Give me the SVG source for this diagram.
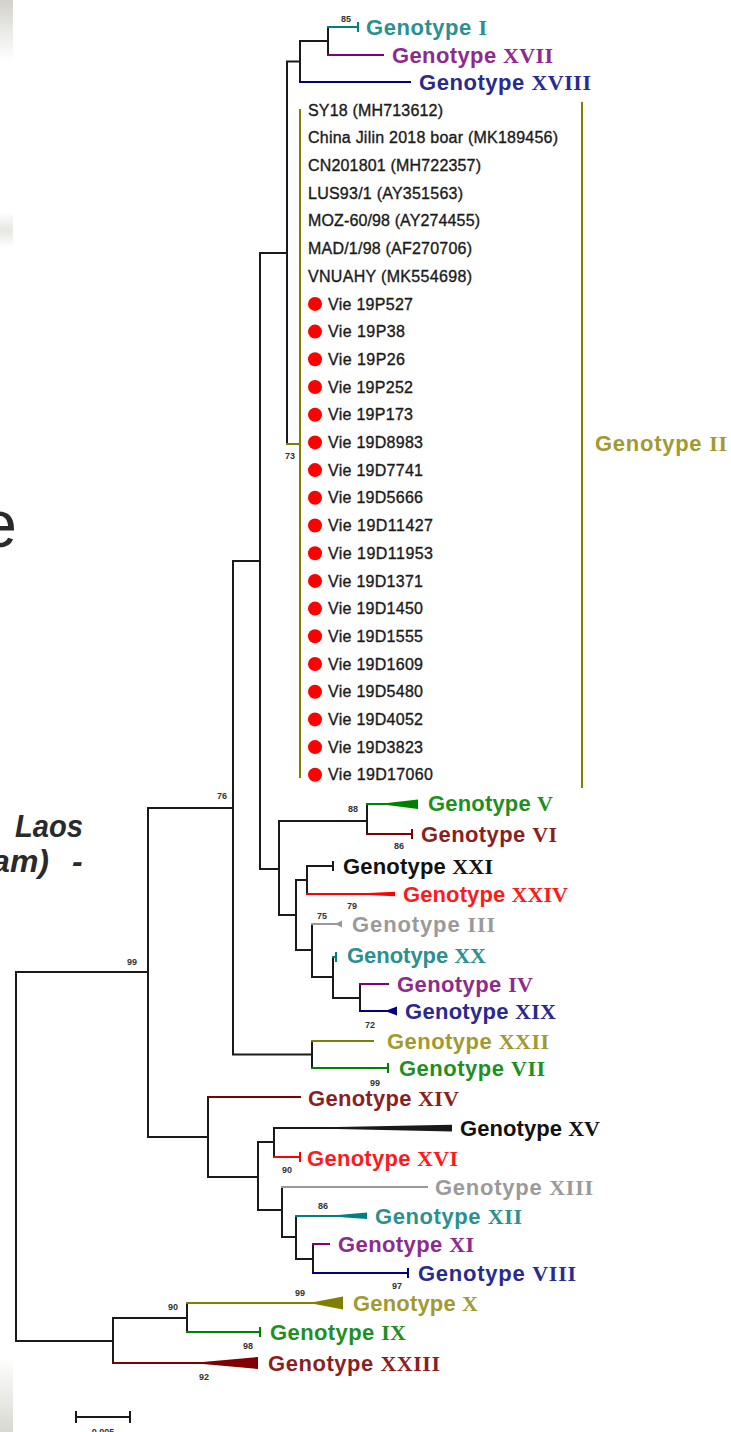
<svg xmlns="http://www.w3.org/2000/svg" width="731" height="1432" viewBox="0 0 731 1432">
<defs>
<linearGradient id="gTop" x1="0" y1="0" x2="0" y2="1"><stop offset="0" stop-color="#d2d2ca"/><stop offset="1" stop-color="#ffffff"/></linearGradient>
<linearGradient id="gBot" x1="0" y1="0" x2="0" y2="1"><stop offset="0" stop-color="#ffffff"/><stop offset="1" stop-color="#d8d8d2"/></linearGradient>
<linearGradient id="gMid" x1="0" y1="0" x2="0" y2="1"><stop offset="0" stop-color="#ffffff"/><stop offset="0.5" stop-color="#e6e6e2"/><stop offset="1" stop-color="#ffffff"/></linearGradient>
<style>
.ln{fill:none;stroke-width:2;stroke-linecap:square}
.k{stroke:#1a1a1a}.tl{stroke:#008080}.pu{stroke:#800080}.nv{stroke:#000080}.ol{stroke:#808000}.gr{stroke:#008000}.dr{stroke:#800000}.rd{stroke:#ff0000}.gy{stroke:#999999}
.fk{fill:#1a1a1a}.ftl{fill:#008080}.fpu{fill:#800080}.fnv{fill:#000080}.fol{fill:#808000}.fgr{fill:#008000}.fdr{fill:#800000}.frd{fill:#ff0000}.fgy{fill:#999999}
.g{font-family:"Liberation Sans",Arial,sans-serif;font-weight:bold;font-size:22px}
.n{font-family:"Liberation Serif","Times New Roman",serif;font-weight:bold}
.ct{fill:#2a9090}.cp{fill:#8e2a8e}.cn{fill:#2a2a8e}.co{fill:#a09a30}.cg{fill:#1f8f1f}.cd{fill:#8b1f1f}.cr{fill:#ff1a1a}.cy{fill:#9a9a9a}.ck{fill:#111111}
.s{font-family:"Liberation Sans",Arial,sans-serif;font-size:16px;fill:#1a1a1a;stroke:#1a1a1a;stroke-width:0.35}
.b{font-family:"Liberation Sans",Arial,sans-serif;font-size:9px;font-weight:bold;fill:#333333;text-anchor:middle}
.dot{fill:#ff0000}
.slide{font-family:"Liberation Sans",Arial,sans-serif;fill:#2a2a2a}
</style>
</defs>
<rect width="731" height="1432" fill="#ffffff"/>
<g id="slide-edge">
<rect x="0" y="0" width="13" height="60" fill="url(#gTop)"/>
<rect x="0" y="212" width="13" height="36" fill="url(#gMid)"/>
<rect x="0" y="1357" width="13" height="75" fill="url(#gBot)"/>
<text class="slide" x="17" y="547" font-size="66" text-anchor="end">e</text>
<text class="slide" x="83" y="837" font-size="32" font-weight="bold" font-style="italic" text-anchor="end" textLength="68" lengthAdjust="spacingAndGlyphs">Laos</text>
<text class="slide" x="49" y="872" font-size="32" font-weight="bold" font-style="italic" text-anchor="end">am)</text>
<text class="slide" x="72" y="872" font-size="32" font-weight="bold" font-style="italic">-</text>
</g>
<g id="connectors">
<path class="ln k" d="M16,972V1341M16,972H148M148,808V1137M148,808H233M233,561V1054.5M233,561H260M260,253V869M260,253H287M287,61.5V444M287,61.5H300M300,41V82M300,41H328M328,27V55M260,869H279M279,821V915M279,821H367M367,804V834M279,915H296M296,880V950M296,880H307M307,866V894M307,866H333M333,862V870M296,950H312M312,924V977M312,977H333M333,957V998M333,998H360M360,984V1011M233,1054.5H312M312,1041V1068M148,1137H208M208,1097V1177M208,1177H258M258,1142V1210M258,1142H274M274,1128V1157M274,1128H340M258,1210H282M282,1187V1237M282,1237H296M296,1216V1259M296,1259H313M313,1244V1273M16,1341H113M113,1318V1363M113,1318H187M187,1303V1332"/>
<polygon class="fk" points="337,1127 452,1124.8 452,1131.5 337,1129"/>
<path class="ln tl" d="M328,27H358M358,23V31M333,957H336M336,953V961M296,1216H338"/>
<polygon class="ftl" points="335,1215.2 367,1212.5 367,1219 335,1216.8"/>
<path class="ln pu" d="M328,55H383M360,984H388M313,1244H329"/>
<path class="ln nv" d="M300,82H410M360,1011H388M313,1273H408M408,1269V1277"/>
<polygon class="fnv" points="385,1011 397,1006.5 397,1015.5"/>
<path class="ln ol" d="M287,444H300M300,110V777M582,103V787M312,1041H373M187,1303H315"/>
<polygon class="fol" points="313,1302.2 343,1296.5 343,1309.5 313,1303.8"/>
<path class="ln gr" d="M367,804H386M312,1068H388M388,1064V1072M187,1332H260M260,1328V1336"/>
<polygon class="fgr" points="385,803.2 418,799.5 418,809 385,804.8"/>
<path class="ln dr" d="M367,834H412M412,830V838M208,1097H300M113,1363H205"/>
<polygon class="fdr" points="200,1362.2 258,1357 258,1369 200,1363.8"/>
<path class="ln rd" d="M307,894H370M274,1157H300M300,1153V1161"/>
<polygon class="frd" points="368,893 395,891.8 395,896.2 368,895"/>
<path class="ln gy" d="M312,924H337M282,1187H427"/>
<polygon class="fgy" points="335,924 342,920.5 342,927.5"/>
<path class="ln k" d="M76,1417H130M76,1412V1422M130,1412V1422"/>
</g>
<g id="tip-genotype-I"><text class="g ct" x="366" y="35" textLength="121" lengthAdjust="spacing">Genotype <tspan class="n">I</tspan></text></g>
<g id="tip-genotype-XVII"><text class="g cp" x="392" y="63" textLength="161" lengthAdjust="spacing">Genotype <tspan class="n">XVII</tspan></text></g>
<g id="tip-genotype-XVIII"><text class="g cn" x="419" y="90" textLength="172" lengthAdjust="spacing">Genotype <tspan class="n">XVIII</tspan></text></g>
<g id="clade-genotype-II"><text class="g co" x="595" y="451" textLength="132" lengthAdjust="spacing">Genotype <tspan class="n">II</tspan></text></g>
<g id="tip-SY18"><text class="s" x="308" y="115.6" textLength="135" lengthAdjust="spacing">SY18 (MH713612)</text></g>
<g id="tip-China-Jilin"><text class="s" x="308" y="143.3" textLength="250" lengthAdjust="spacing">China Jilin 2018 boar (MK189456)</text></g>
<g id="tip-CN201801"><text class="s" x="308" y="171" textLength="173" lengthAdjust="spacing">CN201801 (MH722357)</text></g>
<g id="tip-LUS93"><text class="s" x="308" y="198.7" textLength="155" lengthAdjust="spacing">LUS93/1 (AY351563)</text></g>
<g id="tip-MOZ"><text class="s" x="308" y="226.4" textLength="172" lengthAdjust="spacing">MOZ-60/98 (AY274455)</text></g>
<g id="tip-MAD"><text class="s" x="308" y="254.1" textLength="164" lengthAdjust="spacing">MAD/1/98 (AF270706)</text></g>
<g id="tip-VNUAHY"><text class="s" x="308" y="281.8" textLength="164" lengthAdjust="spacing">VNUAHY (MK554698)</text></g>
<g id="tip-19P527"><circle class="dot" cx="315" cy="303.9" r="7"/><text class="s" x="328" y="309.5" textLength="85" lengthAdjust="spacing">Vie 19P527</text></g>
<g id="tip-19P38"><circle class="dot" cx="315" cy="331.6" r="7"/><text class="s" x="328" y="337.2" textLength="77" lengthAdjust="spacing">Vie 19P38</text></g>
<g id="tip-19P26"><circle class="dot" cx="315" cy="359.3" r="7"/><text class="s" x="328" y="364.9" textLength="77" lengthAdjust="spacing">Vie 19P26</text></g>
<g id="tip-19P252"><circle class="dot" cx="315" cy="387" r="7"/><text class="s" x="328" y="392.6" textLength="85" lengthAdjust="spacing">Vie 19P252</text></g>
<g id="tip-19P173"><circle class="dot" cx="315" cy="414.7" r="7"/><text class="s" x="328" y="420.3" textLength="85" lengthAdjust="spacing">Vie 19P173</text></g>
<g id="tip-19D8983"><circle class="dot" cx="315" cy="442.4" r="7"/><text class="s" x="328" y="448" textLength="95" lengthAdjust="spacing">Vie 19D8983</text></g>
<g id="tip-19D7741"><circle class="dot" cx="315" cy="470.1" r="7"/><text class="s" x="328" y="475.7" textLength="95" lengthAdjust="spacing">Vie 19D7741</text></g>
<g id="tip-19D5666"><circle class="dot" cx="315" cy="497.8" r="7"/><text class="s" x="328" y="503.4" textLength="95" lengthAdjust="spacing">Vie 19D5666</text></g>
<g id="tip-19D11427"><circle class="dot" cx="315" cy="525.5" r="7"/><text class="s" x="328" y="531.1" textLength="105" lengthAdjust="spacing">Vie 19D11427</text></g>
<g id="tip-19D11953"><circle class="dot" cx="315" cy="553.2" r="7"/><text class="s" x="328" y="558.8" textLength="105" lengthAdjust="spacing">Vie 19D11953</text></g>
<g id="tip-19D1371"><circle class="dot" cx="315" cy="580.9" r="7"/><text class="s" x="328" y="586.5" textLength="95" lengthAdjust="spacing">Vie 19D1371</text></g>
<g id="tip-19D1450"><circle class="dot" cx="315" cy="608.6" r="7"/><text class="s" x="328" y="614.2" textLength="95" lengthAdjust="spacing">Vie 19D1450</text></g>
<g id="tip-19D1555"><circle class="dot" cx="315" cy="636.3" r="7"/><text class="s" x="328" y="641.9" textLength="95" lengthAdjust="spacing">Vie 19D1555</text></g>
<g id="tip-19D1609"><circle class="dot" cx="315" cy="664" r="7"/><text class="s" x="328" y="669.6" textLength="95" lengthAdjust="spacing">Vie 19D1609</text></g>
<g id="tip-19D5480"><circle class="dot" cx="315" cy="691.7" r="7"/><text class="s" x="328" y="697.3" textLength="95" lengthAdjust="spacing">Vie 19D5480</text></g>
<g id="tip-19D4052"><circle class="dot" cx="315" cy="719.4" r="7"/><text class="s" x="328" y="725" textLength="95" lengthAdjust="spacing">Vie 19D4052</text></g>
<g id="tip-19D3823"><circle class="dot" cx="315" cy="747.1" r="7"/><text class="s" x="328" y="752.7" textLength="95" lengthAdjust="spacing">Vie 19D3823</text></g>
<g id="tip-19D17060"><circle class="dot" cx="315" cy="774.8" r="7"/><text class="s" x="328" y="780.4" textLength="105" lengthAdjust="spacing">Vie 19D17060</text></g>
<g id="tip-genotype-V"><text class="g cg" x="428" y="811" textLength="125" lengthAdjust="spacing">Genotype <tspan class="n">V</tspan></text></g>
<g id="tip-genotype-VI"><text class="g cd" x="421" y="842" textLength="136" lengthAdjust="spacing">Genotype <tspan class="n">VI</tspan></text></g>
<g id="tip-genotype-XXI"><text class="g ck" x="343" y="874" textLength="150" lengthAdjust="spacing">Genotype <tspan class="n">XXI</tspan></text></g>
<g id="tip-genotype-XXIV"><text class="g cr" x="403" y="902" textLength="165" lengthAdjust="spacing">Genotype <tspan class="n">XXIV</tspan></text></g>
<g id="tip-genotype-III"><text class="g cy" x="352" y="932" textLength="143" lengthAdjust="spacing">Genotype <tspan class="n">III</tspan></text></g>
<g id="tip-genotype-XX"><text class="g ct" x="347" y="963" textLength="139" lengthAdjust="spacing">Genotype <tspan class="n">XX</tspan></text></g>
<g id="tip-genotype-IV"><text class="g cp" x="397" y="992" textLength="136" lengthAdjust="spacing">Genotype <tspan class="n">IV</tspan></text></g>
<g id="tip-genotype-XIX"><text class="g cn" x="405" y="1019" textLength="151" lengthAdjust="spacing">Genotype <tspan class="n">XIX</tspan></text></g>
<g id="tip-genotype-XXII"><text class="g co" x="387" y="1049" textLength="162" lengthAdjust="spacing">Genotype <tspan class="n">XXII</tspan></text></g>
<g id="tip-genotype-VII"><text class="g cg" x="399" y="1076" textLength="146" lengthAdjust="spacing">Genotype <tspan class="n">VII</tspan></text></g>
<g id="tip-genotype-XIV"><text class="g cd" x="308" y="1106" textLength="151" lengthAdjust="spacing">Genotype <tspan class="n">XIV</tspan></text></g>
<g id="tip-genotype-XV"><text class="g ck" x="460" y="1136" textLength="140" lengthAdjust="spacing">Genotype <tspan class="n">XV</tspan></text></g>
<g id="tip-genotype-XVI"><text class="g cr" x="307" y="1166" textLength="151" lengthAdjust="spacing">Genotype <tspan class="n">XVI</tspan></text></g>
<g id="tip-genotype-XIII"><text class="g cy" x="435" y="1195" textLength="158" lengthAdjust="spacing">Genotype <tspan class="n">XIII</tspan></text></g>
<g id="tip-genotype-XII"><text class="g ct" x="375" y="1224" textLength="147" lengthAdjust="spacing">Genotype <tspan class="n">XII</tspan></text></g>
<g id="tip-genotype-XI"><text class="g cp" x="338" y="1252" textLength="136" lengthAdjust="spacing">Genotype <tspan class="n">XI</tspan></text></g>
<g id="tip-genotype-VIII"><text class="g cn" x="418" y="1281" textLength="158" lengthAdjust="spacing">Genotype <tspan class="n">VIII</tspan></text></g>
<g id="tip-genotype-X"><text class="g co" x="353" y="1311" textLength="125" lengthAdjust="spacing">Genotype <tspan class="n">X</tspan></text></g>
<g id="tip-genotype-IX"><text class="g cg" x="270" y="1340" textLength="136" lengthAdjust="spacing">Genotype <tspan class="n">IX</tspan></text></g>
<g id="tip-genotype-XXIII"><text class="g cd" x="268" y="1371" textLength="172" lengthAdjust="spacing">Genotype <tspan class="n">XXIII</tspan></text></g>
<g id="bootstrap">
<text class="b" x="346" y="22">85</text>
<text class="b" x="290" y="459">73</text>
<text class="b" x="222" y="799">76</text>
<text class="b" x="132" y="965">99</text>
<text class="b" x="353" y="812">88</text>
<text class="b" x="399" y="849">86</text>
<text class="b" x="352" y="909">79</text>
<text class="b" x="322" y="919">75</text>
<text class="b" x="370" y="1028">72</text>
<text class="b" x="375" y="1086">99</text>
<text class="b" x="287" y="1173">90</text>
<text class="b" x="323" y="1209">86</text>
<text class="b" x="397" y="1289">97</text>
<text class="b" x="300" y="1296">99</text>
<text class="b" x="173" y="1310">90</text>
<text class="b" x="248" y="1349">98</text>
<text class="b" x="204" y="1380">92</text>
</g>
<g id="scale-bar"><text class="b" x="103" y="1435" font-weight="normal">0.005</text></g>
</svg>
